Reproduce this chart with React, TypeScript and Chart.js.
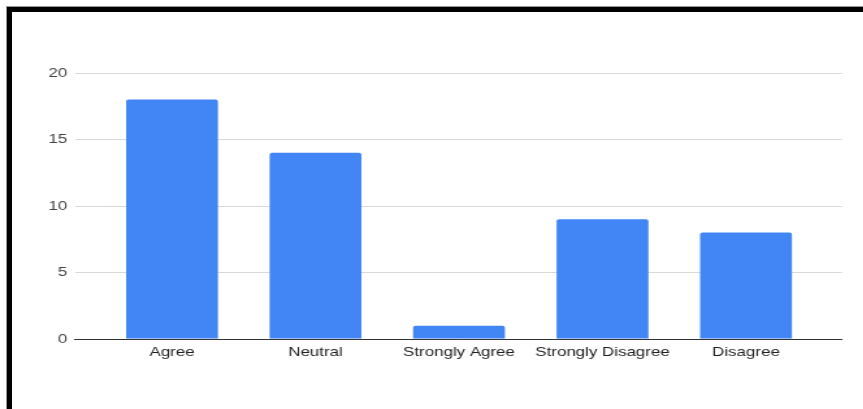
import React, { useEffect, useRef } from "react";
import { Chart, registerables } from "chart.js";

Chart.register(...registerables);

const categories = ["Agree", "Neutral", "Strongly Agree", "Strongly Disagree", "Disagree"];
const counts = [18, 14, 1, 9, 8];
const yTicks = [0, 5, 10, 15, 20];

const STRETCH = 1.3;
const W = Math.round(863 / STRETCH);
const H = 409;

export default function App() {
  const ref = useRef<HTMLCanvasElement | null>(null);

  useEffect(() => {
    const canvas = ref.current;
    if (!canvas) return;
    const chart = new Chart(canvas, {
      type: "bar",
      data: {
        datasets: [
          {
            data: counts.map((v, i) => ({ x: i, y: v })),
            backgroundColor: "#4285F4",
            borderRadius: { topLeft: 2, topRight: 2, bottomLeft: 0, bottomRight: 0 },
            borderSkipped: "bottom",
            barPercentage: 0.64,
            categoryPercentage: 1,
          },
        ],
      },
      options: {
        animation: false,
        responsive: false,
        devicePixelRatio: 1,
        layout: { padding: { top: 73, right: W - 842 / STRETCH, bottom: 0, left: 0 } },
        plugins: { legend: { display: false }, tooltip: { enabled: false }, title: { display: false } },
        scales: {
          x: {
            type: "linear",
            offset: false,
            min: -0.676,
            max: 4.669,
            grid: { display: false, drawTicks: false },
            border: { display: true, color: "#333333", width: 1 },
            afterBuildTicks: (scale: any) => {
              scale.ticks = categories.map((_, i) => ({ value: i }));
            },
            afterFit: (scale: any) => {
              scale.height = H - 339;
            },
            ticks: {
              autoSkip: false,
              maxRotation: 0,
              padding: 6,
              color: "#1f1f1f",
              font: { family: "'Liberation Sans', Arial, sans-serif", size: 13 },
              callback: (v: any) => categories[Math.round(Number(v))] ?? "",
            },
          },
          y: {
            min: 0,
            max: 20,
            afterBuildTicks: (scale: any) => {
              scale.ticks = yTicks.map((v) => ({ value: v }));
            },
            afterFit: (scale: any) => {
              scale.width = 75 / STRETCH;
            },
            border: { display: false },
            grid: {
              drawTicks: false,
              color: (ctx: any) => (ctx.tick && ctx.tick.value === 0 ? "#333333" : "#d9d9d9"),
              lineWidth: 1,
            },
            ticks: {
              padding: 6,
              color: "#444444",
              font: { family: "'Liberation Sans', Arial, sans-serif", size: 13 },
            },
          },
        },
      },
    });
    return () => chart.destroy();
  }, []);

  return (
    <div style={{ position: "fixed", left: 0, top: 0, width: 863, height: 409, background: "#fff", overflow: "hidden" }}>
      <canvas
        ref={ref}
        width={W}
        height={H}
        style={{
          position: "absolute",
          left: 0,
          top: 0,
          width: W,
          height: H,
          transform: `scaleX(${STRETCH})`,
          transformOrigin: "0 0",
        }}
      />
      <div style={{ position: "absolute", left: 6, top: 6, right: 0, height: 1, background: "#999" }} />
      <div style={{ position: "absolute", left: 6, top: 6, width: 1, bottom: 0, background: "#999" }} />
      <div style={{ position: "absolute", left: 7, top: 7, right: 0, height: 5, background: "#000" }} />
      <div style={{ position: "absolute", left: 7, top: 7, width: 5, bottom: 0, background: "#000" }} />
    </div>
  );
}
